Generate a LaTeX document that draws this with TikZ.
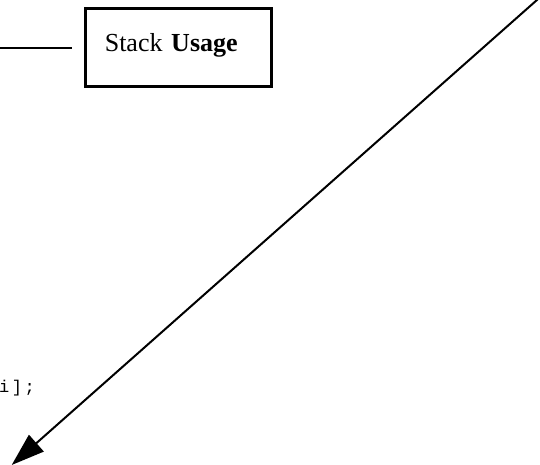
\documentclass[tikz,border=0pt]{standalone}
\usepackage{fontspec}
\setmainfont{Liberation Serif}
\newfontfamily\codefont[LetterSpace=15]{Liberation Mono}
\usetikzlibrary{arrows.meta}

\begin{document}
\begin{tikzpicture}[x=1pt,y=-1pt,
    labelbox/.style={draw,line width=3pt,anchor=north west,inner xsep=19.8pt,inner ysep=0pt,
                     text width=146.9pt,align=left,text height=43pt,text depth=34.7pt,font=\fontsize{26}{30}\selectfont},
    codetext/.style={anchor=base west,inner sep=0pt,font=\codefont\fontsize{17}{20}\selectfont}]
  \useasboundingbox (0,0) rectangle (540,465);

  \node[labelbox] (usage) at (83.5,7) {Stack \textbf{Usage}};
  \coordinate (lead0) at (-2,48);
  \coordinate (lead1) at (72,48);
  \draw[line width=2.6pt] (lead0) -- (lead1);

  \node[codetext] (code) at (-1,392) {i];};

  \coordinate (src) at (560,-20.4);
  \coordinate (dst) at (11.7,465);
  \draw[line width=2pt,-{Triangle[length=33pt,width=22pt]}] (src) -- (dst);
\end{tikzpicture}
\end{document}
